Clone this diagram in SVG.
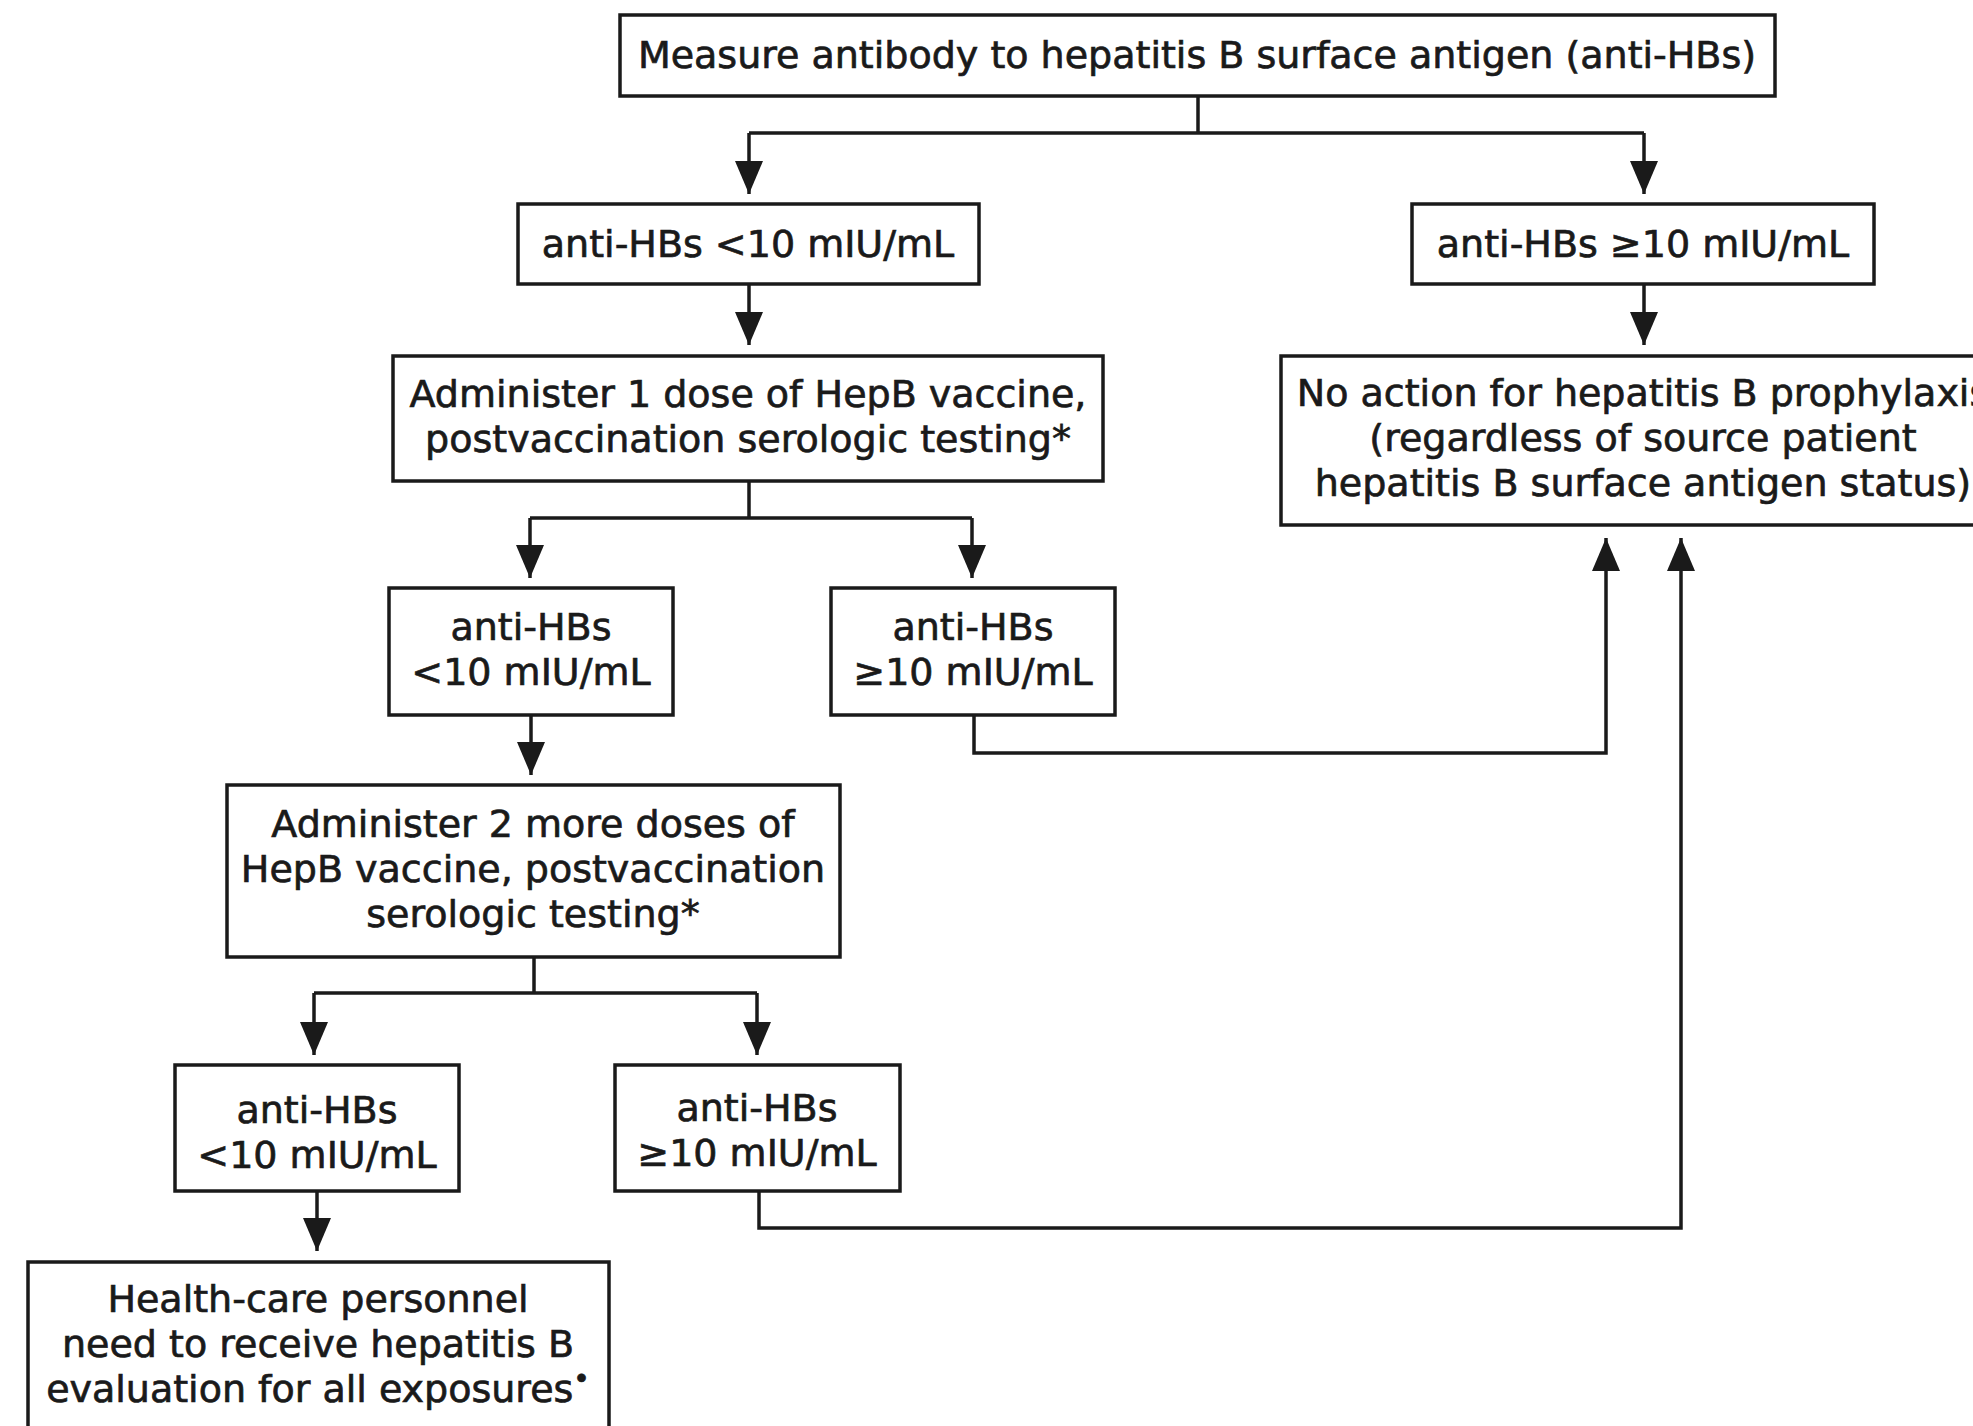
<svg xmlns="http://www.w3.org/2000/svg" width="1973" height="1426" viewBox="0 0 1973 1426">
<defs>
<style>
.box{fill:#ffffff;stroke:#1a1a1a;stroke-width:3.5}
.lbl{font-family:"DejaVu Sans","Verdana",sans-serif;font-size:38px;fill:#1a1a1a;stroke:#1a1a1a;stroke-width:0.7;text-anchor:middle}
.con{fill:none;stroke:#1a1a1a;stroke-width:3.5}
.arr{fill:none;stroke:#1a1a1a;stroke-width:3.5;marker-end:url(#ah)}
</style>
<marker id="ah" markerUnits="userSpaceOnUse" markerWidth="36" markerHeight="30" refX="33" refY="14" orient="auto">
<path d="M0,0 L33,14 L0,28 Z" fill="#1a1a1a"/>
</marker>
</defs>
<rect width="1973" height="1426" fill="#ffffff"/>

<g id="connectors">
<path class="con" d="M1198,97 V133 M749,133 H1644"/>
<path class="arr" d="M749,133 V194"/>
<path class="arr" d="M1644,133 V194"/>
<path class="arr" d="M749,284 V345"/>
<path class="arr" d="M1644,284 V345"/>
<path class="con" d="M749,481 V518 M530,518 H972"/>
<path class="arr" d="M530,518 V578"/>
<path class="arr" d="M972,518 V578"/>
<path class="arr" d="M531,715 V775"/>
<path class="arr" d="M974,715 V753 H1606 V538"/>
<path class="con" d="M534,957 V993 M314,993 H757"/>
<path class="arr" d="M314,993 V1055"/>
<path class="arr" d="M757,993 V1055"/>
<path class="arr" d="M317,1191 V1251"/>
<path class="arr" d="M759,1191 V1228 H1681 V538"/>
</g>

<g id="n_measure">
<rect class="box" x="620" y="15" width="1155" height="81"/>
<text class="lbl" x="1197" y="68">Measure antibody to hepatitis B surface antigen (anti-HBs)</text>
</g>

<g id="n_lt10_a">
<rect class="box" x="518" y="204" width="461" height="80"/>
<text class="lbl" x="748" y="257">anti-HBs &lt;10 mIU/mL</text>
</g>

<g id="n_ge10_a">
<rect class="box" x="1412" y="204" width="462" height="80"/>
<text class="lbl" x="1643" y="257">anti-HBs ≥10 mIU/mL</text>
</g>

<g id="n_dose1">
<rect class="box" x="393" y="356" width="710" height="125"/>
<text class="lbl" x="748" y="407">Administer 1 dose of HepB vaccine,</text>
<text class="lbl" x="748" y="452">postvaccination serologic testing*</text>
</g>

<g id="n_noaction">
<rect class="box" x="1281" y="356" width="725" height="169"/>
<text class="lbl" x="1643" y="406">No action for hepatitis B prophylaxis</text>
<text class="lbl" x="1643" y="451">(regardless of source patient</text>
<text class="lbl" x="1643" y="496">hepatitis B surface antigen status)</text>
</g>

<g id="n_lt10_b">
<rect class="box" x="389" y="588" width="284" height="127"/>
<text class="lbl" x="531" y="640">anti-HBs</text>
<text class="lbl" x="531" y="685">&lt;10 mIU/mL</text>
</g>

<g id="n_ge10_b">
<rect class="box" x="831" y="588" width="284" height="127"/>
<text class="lbl" x="973" y="640">anti-HBs</text>
<text class="lbl" x="973" y="685">≥10 mIU/mL</text>
</g>

<g id="n_dose2">
<rect class="box" x="227" y="785" width="613" height="172"/>
<text class="lbl" x="533" y="837">Administer 2 more doses of</text>
<text class="lbl" x="533" y="882">HepB vaccine, postvaccination</text>
<text class="lbl" x="533" y="927">serologic testing*</text>
</g>

<g id="n_lt10_c">
<rect class="box" x="175" y="1065" width="284" height="126"/>
<text class="lbl" x="317" y="1123">anti-HBs</text>
<text class="lbl" x="317" y="1168">&lt;10 mIU/mL</text>
</g>

<g id="n_ge10_c">
<rect class="box" x="615" y="1065" width="285" height="126"/>
<text class="lbl" x="757" y="1121">anti-HBs</text>
<text class="lbl" x="757" y="1166">≥10 mIU/mL</text>
</g>

<g id="n_evaluate">
<rect class="box" x="28" y="1262" width="581" height="200"/>
<text class="lbl" x="318" y="1312">Health-care personnel</text>
<text class="lbl" x="318" y="1357">need to receive hepatitis B</text>
<text class="lbl" x="318" y="1402">evaluation for all exposures<tspan font-size="28" dy="-14">•</tspan></text>
</g>
</svg>
